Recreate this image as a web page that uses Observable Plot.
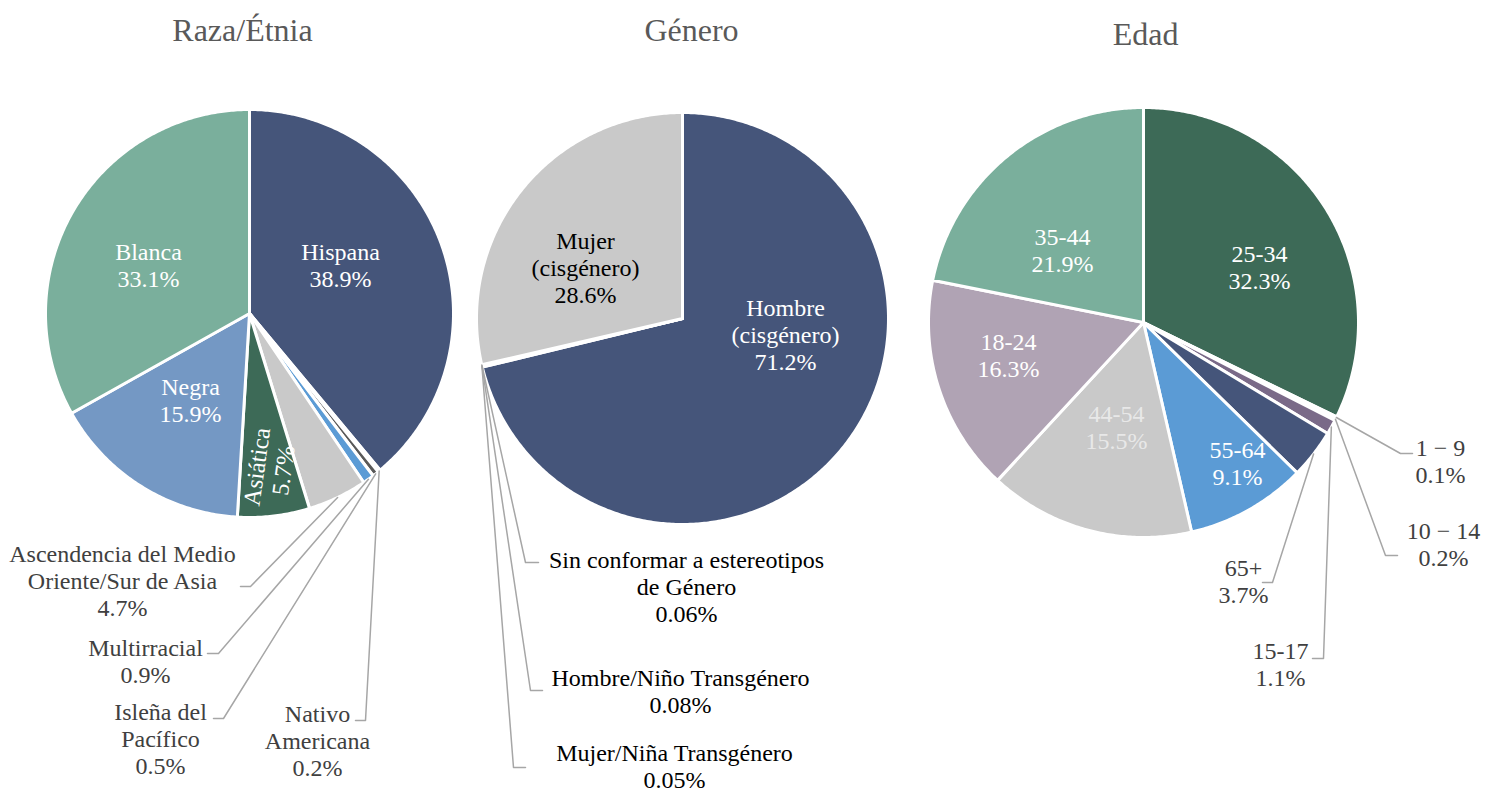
<!DOCTYPE html>
<html><head><meta charset="utf-8">
<script src="https://cdn.jsdelivr.net/npm/d3@7"></script>
<script src="https://cdn.jsdelivr.net/npm/@observablehq/plot@0.6"></script>
<style>body{margin:0;background:#fff;overflow:hidden}</style>
</head><body><div id="chart"></div>
<script>
// ---------- data ----------
const titles = ["Raza/Étnia", "Género", "Edad"];

const razaLabels = ["Hispana", "Nativo\nAmericana", "Isleña del\nPacífico", "Multirracial", "Ascendencia del Medio\nOriente/Sur de Asia", "Asiática", "Negra", "Blanca"];
const razaValues = [38.9, 0.2, 0.5, 0.9, 4.7, 5.7, 15.9, 33.1];

const generoLabels = ["Hombre\n(cisgénero)", "Sin conformar a estereotipos\nde Género", "Hombre/Niño Transgénero", "Mujer/Niña Transgénero", "Mujer\n(cisgénero)"];
const generoValues = [71.2, 0.06, 0.08, 0.05, 28.6];

const edadLabels = ["25-34", "1 − 9", "10 − 14", "15-17", "65+", "55-64", "44-54", "18-24", "35-44"];
const edadValues = [32.3, 0.1, 0.2, 1.1, 3.7, 9.1, 15.5, 16.3, 21.9];

// ---------- styles / layout ----------
const razaColors = ["#45557A", "#262626", "#595959", "#5B9BD5", "#C9C9C9", "#3D6A57", "#7498C4", "#7AAF9C"];
const generoColors = ["#45557A", "#7F7F7F", "#5B9BD5", "#3D6A57", "#C9C9C9"];
const edadColors = ["#3D6A57", "#7F7F7F", "#A5A5A5", "#7A6A88", "#45557A", "#5B9BD5", "#C9C9C9", "#B0A3B4", "#7AAF9C"];

const pies = [
  {cx: 249, cy: 313, r: 204, values: razaValues, labels: razaLabels, colors: razaColors, title: [242, 30]},
  {cx: 682, cy: 318, r: 206, values: generoValues, labels: generoLabels, colors: generoColors, title: [691, 30]},
  {cx: 1143, cy: 322, r: 215, values: edadValues, labels: edadLabels, colors: edadColors, title: [1145, 34]}
];

// label placement per slice: [pie, slice, x, y, color, elbow x, elbow y, end x]
const labelLayout = [
  [0, 0, 340, 264, "#FFFFFF"],
  [0, 1, 317, 740, "#404040", 365, 720, 355],
  [0, 2, 160, 738, "#404040", 223, 718, 213],
  [0, 3, 145, 660, "#404040", 218, 653, 207],
  [0, 4, 122, 580, "#404040", 250, 586, 240],
  [0, 6, 190, 399, "#FFFFFF"],
  [0, 7, 148, 264, "#FFFFFF"],
  [1, 0, 785, 334, "#FFFFFF"],
  [1, 1, 686, 586, "#000000", 525, 562, 538],
  [1, 2, 680, 690, "#000000", 530, 690, 542],
  [1, 3, 674, 765, "#000000", 513, 767, 525],
  [1, 4, 585, 267, "#000000"],
  [2, 0, 1259, 266, "#FFFFFF"],
  [2, 1, 1440, 460, "#404040", 1400, 453, 1412],
  [2, 2, 1443, 543, "#404040", 1385, 555, 1397],
  [2, 3, 1280, 663, "#404040", 1323, 658, 1312],
  [2, 4, 1243, 580, "#404040", 1272, 582, 1262],
  [2, 5, 1237, 462, "#FFFFFF"],
  [2, 6, 1116, 426, "#E8E8E8"],
  [2, 7, 1008, 354, "#FFFFFF"],
  [2, 8, 1062, 249, "#FFFFFF"]
];
const rotatedLayout = [[0, 5, 269, 468, "#FFFFFF", -82]];

// ---------- build geometry ----------
const slices = [], leaders = [], labels = [], rotated = [], titleRows = [];
const arcsByPie = pies.map(p => d3.pie().sort(null).value(d => d)(p.values));

pies.forEach((p, pi) => {
  titleRows.push({x: p.title[0], y: p.title[1], text: titles[pi]});
  arcsByPie[pi].forEach((a, i) => {
    const id = pi + "-" + i;
    slices.push({id, x: p.cx, y: p.cy, fill: p.colors[i]});
    const n = Math.max(2, Math.ceil((a.endAngle - a.startAngle) / 0.01));
    for (let k = 0; k <= n; k++) {
      const t = a.startAngle + (a.endAngle - a.startAngle) * k / n;
      slices.push({id, x: p.cx + p.r * Math.sin(t), y: p.cy - p.r * Math.cos(t), fill: p.colors[i]});
    }
  });
});

const pct = v => String(v) + "%";
labelLayout.forEach(([pi, si, x, y, color, ex, ey, endx]) => {
  const p = pies[pi];
  labels.push({x, y, fill: color, text: p.labels[si] + "\n" + pct(p.values[si])});
  if (ex !== undefined) {
    const a = arcsByPie[pi][si];
    const m = (a.startAngle + a.endAngle) / 2;
    const id = "L" + pi + "-" + si;
    leaders.push({id, x: p.cx + p.r * Math.sin(m), y: p.cy - p.r * Math.cos(m)});
    leaders.push({id, x: ex, y: ey});
    leaders.push({id, x: endx, y: ey});
  }
});
rotatedLayout.forEach(([pi, si, x, y, color, rot]) => {
  const p = pies[pi];
  rotated.push({x, y, fill: color, text: p.labels[si] + "\n" + pct(p.values[si])});
});

const font = "'Liberation Serif', 'Times New Roman', serif";
const chart = Plot.plot({
  width: 1493, height: 792, margin: 0,
  x: {domain: [0, 1493], range: [0, 1493], axis: null},
  y: {domain: [0, 792], range: [0, 792], axis: null},
  color: {type: "identity"},
  style: {background: "#fff", fontFamily: font},
  marks: [
    Plot.line(slices, {x: "x", y: "y", z: "id", fill: "fill", stroke: "#FFFFFF", strokeWidth: 3, curve: "linear-closed", strokeLinejoin: "round"}),
    Plot.line(leaders, {x: "x", y: "y", z: "id", stroke: "#A6A6A6", strokeWidth: 1.5}),
    Plot.text(labels, {x: "x", y: "y", text: "text", fill: "fill", fontSize: 24, fontFamily: font, lineHeight: 1.12, textAnchor: "middle"}),
    Plot.text(rotated, {x: "x", y: "y", text: "text", fill: "fill", fontSize: 24, fontFamily: font, lineHeight: 1.12, textAnchor: "middle", rotate: rotatedLayout[0][5]}),
    Plot.text(titleRows, {x: "x", y: "y", text: "text", fill: "#595959", fontSize: 32, fontFamily: font, textAnchor: "middle"})
  ]
});
document.getElementById("chart").appendChild(chart);
</script>
</body></html>
